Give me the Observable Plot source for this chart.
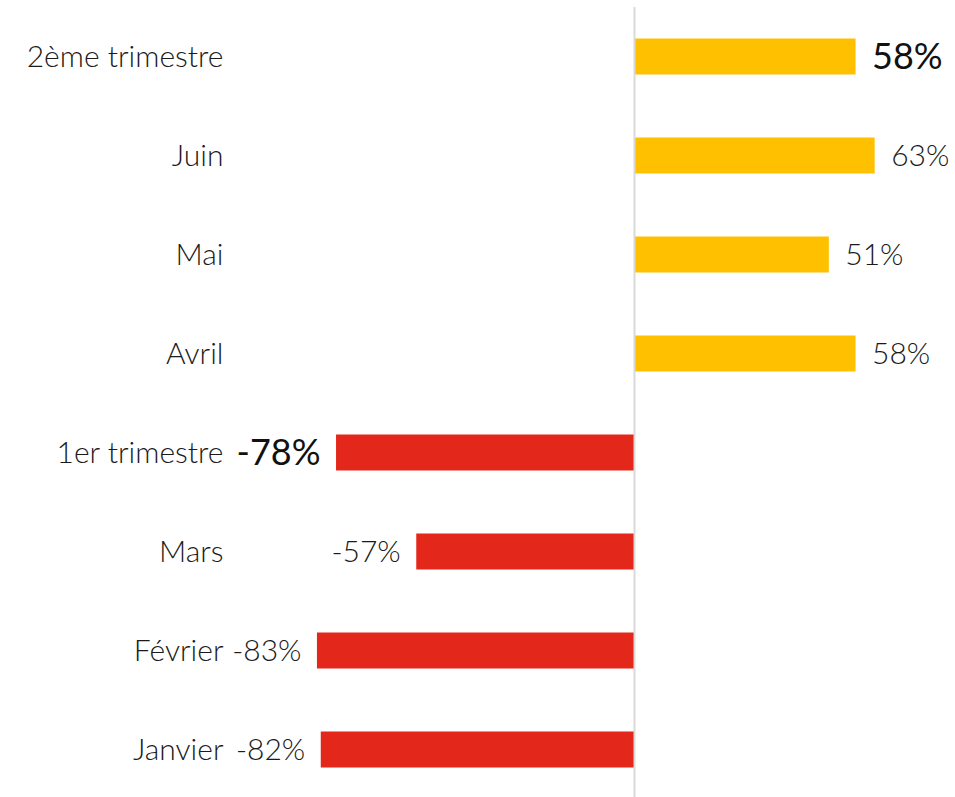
<!DOCTYPE html>
<html>
<head>
<meta charset="utf-8">
<script src="https://cdn.jsdelivr.net/npm/d3@7"></script>
<script src="https://cdn.jsdelivr.net/npm/@observablehq/plot@0.6"></script>
<style>
  html, body { margin: 0; padding: 0; background: #fff; }
  #chart { width: 955px; height: 797px; overflow: hidden; }
</style>
</head>
<body>
<div id="chart"></div>
<script>
const categories = ["2ème trimestre", "Juin", "Mai", "Avril", "1er trimestre", "Mars", "Février", "Janvier"];
const values = [58, 63, 51, 58, -78, -57, -83, -82];
const highlighted = [true, false, false, false, true, false, false, false];

const data = categories.map((c, i) => ({
  category: c,
  value: values[i],
  label: values[i] + "%",
  big: highlighted[i]
}));

const font = "Lato, sans-serif";

const chart = Plot.plot({
  width: 955,
  height: 797,
  marginTop: 7,
  marginBottom: 0,
  marginLeft: 233,
  marginRight: 0,
  style: { fontFamily: font, fontSize: "30px", fontWeight: 300, color: "#1a1a1a", background: "#fff" },
  x: { domain: [-100, 100], range: [634 - 382, 634 + 382], axis: null },
  y: { domain: categories, range: [7, 799], padding: 0, label: null },
  marks: [
    Plot.barX(data, {
      x: "value",
      y: "category",
      fill: d => d.value >= 0 ? "#FFC000" : "#E3271B",
      insetTop: 31.5,
      insetBottom: 31.5
    }),
    Plot.ruleX([0], { stroke: "#d9d9d9", strokeWidth: 2 }),
    Plot.axisY({ anchor: "left", tickSize: 0, tickPadding: 10, fontSize: 30, fill: "#1a1a1a", label: null }),
    Plot.text(data.filter(d => d.value >= 0 && !d.big), {
      x: "value", y: "category", text: "label",
      textAnchor: "start", dx: 16, fontSize: 30, fill: "#1a1a1a"
    }),
    Plot.text(data.filter(d => d.value >= 0 && d.big), {
      x: "value", y: "category", text: "label",
      textAnchor: "start", dx: 16, fontSize: 36, fontWeight: 400, fill: "#111"
    }),
    Plot.text(data.filter(d => d.value < 0 && !d.big), {
      x: "value", y: "category", text: "label",
      textAnchor: "end", dx: -16, fontSize: 30, fill: "#1a1a1a"
    }),
    Plot.text(data.filter(d => d.value < 0 && d.big), {
      x: "value", y: "category", text: "label",
      textAnchor: "end", dx: -16, fontSize: 36, fontWeight: 400, fill: "#111"
    })
  ]
});
document.getElementById("chart").append(chart);
</script>
</body>
</html>
